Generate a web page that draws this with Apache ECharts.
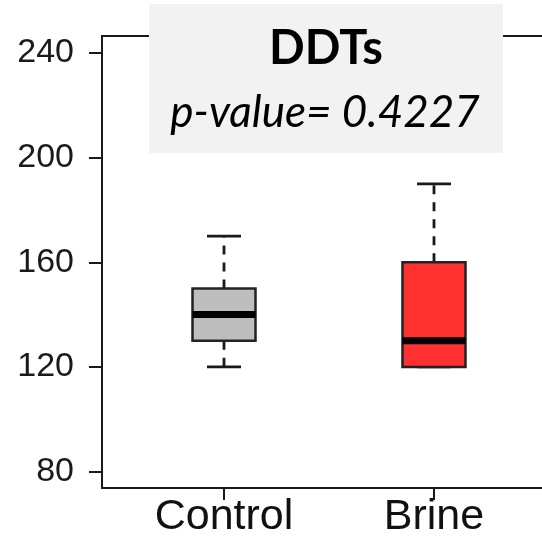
<!DOCTYPE html>
<html>
<head>
<meta charset="utf-8">
<script src="https://cdn.jsdelivr.net/npm/echarts@6/dist/echarts.min.js"></script>
<style>
  html, body { margin: 0; padding: 0; background: #fff; }
  #main { width: 542px; height: 540px; }
</style>
</head>
<body>
<div id="main"></div>
<script>
// groups and box stats (min, q1, median, q3, max)
const groups = ['Control', 'Brine'];
const groupPos = [1, 2];
const boxStats = [
  [120, 130, 140, 150, 170],
  [120, 120, 130, 160, 190]
];
const boxColors = ['#BEBEBE', '#FF3030'];
const yTicks = [80, 120, 160, 200, 240];
const titleText = 'DDTs';
const pText = 'p-value= 0.4227';

const seriesData = boxStats.map((s, i) => [groupPos[i]].concat(s));

const myChart = echarts.init(document.getElementById('main'));

const option = {
  backgroundColor: '#ffffff',
  animation: false,
  grid: {
    left: 102,
    top: 36,
    bottom: 52,
    right: -14,
    outerBoundsMode: 'none',
    containLabel: false,
    show: true,
    borderColor: '#1a1a1a',
    borderWidth: 2,
    backgroundColor: 'transparent'
  },
  xAxis: {
    type: 'value',
    min: 0.419,
    max: 2.581,
    splitLine: { show: false },
    axisLine: { show: true, lineStyle: { color: '#1a1a1a', width: 2 } },
    axisTick: {
      show: true,
      customValues: groupPos,
      length: 12,
      lineStyle: { color: '#1a1a1a', width: 2 }
    },
    axisLabel: {
      customValues: groupPos,
      formatter: function (v) {
        return groups[groupPos.indexOf(v)] || '';
      },
      fontFamily: 'Liberation Sans, Arial, sans-serif',
      fontSize: 43,
      color: '#111',
      margin: 8
    }
  },
  yAxis: {
    type: 'value',
    min: 73.7,
    max: 246.5,
    splitLine: { show: false },
    axisLine: { show: true, lineStyle: { color: '#1a1a1a', width: 2 } },
    axisTick: {
      show: true,
      customValues: yTicks,
      length: 13,
      lineStyle: { color: '#1a1a1a', width: 2 }
    },
    axisLabel: {
      customValues: yTicks,
      fontFamily: 'Liberation Sans, Arial, sans-serif',
      fontSize: 34,
      color: '#1a1a1a',
      margin: 28
    }
  },
  series: [{
    type: 'custom',
    clip: false,
    data: seriesData,
    renderItem: function (params, api) {
      const x = api.value(0);
      const lo = api.coord([x, api.value(1)]);
      const q1 = api.coord([x, api.value(2)]);
      const md = api.coord([x, api.value(3)]);
      const q3 = api.coord([x, api.value(4)]);
      const hi = api.coord([x, api.value(5)]);
      const cx = lo[0];
      const half = 31.5;
      const cap = 17;
      const ink = '#1a1a1a';
      const dashStyle = { stroke: ink, lineWidth: 2.8, lineDash: [9, 8] };
      const solid = { stroke: ink, lineWidth: 2.8 };
      return {
        type: 'group',
        children: [
          { type: 'line', shape: { x1: cx, y1: q3[1], x2: cx, y2: hi[1] }, style: dashStyle },
          { type: 'line', shape: { x1: cx, y1: q1[1], x2: cx, y2: lo[1] }, style: dashStyle },
          { type: 'line', shape: { x1: cx - cap, y1: hi[1], x2: cx + cap, y2: hi[1] }, style: solid },
          { type: 'line', shape: { x1: cx - cap, y1: lo[1], x2: cx + cap, y2: lo[1] }, style: solid },
          {
            type: 'rect',
            shape: { x: cx - half, y: q3[1], width: half * 2, height: q1[1] - q3[1] },
            style: { fill: boxColors[params.dataIndex], stroke: '#222', lineWidth: 2.5 }
          },
          { type: 'line', shape: { x1: cx - half, y1: md[1], x2: cx + half, y2: md[1] }, style: { stroke: '#000', lineWidth: 7 } }
        ]
      };
    }
  }],
  graphic: [{
    type: 'group',
    z: 100,
    children: [
      {
        type: 'rect',
        shape: { x: 149, y: 4, width: 354, height: 149 },
        style: { fill: '#f2f2f2' }
      },
      {
        type: 'text',
        x: 326,
        y: 49,
        style: {
          text: titleText,
          fill: '#000',
          font: 'bold 47px Lato, "Open Sans", sans-serif',
          textAlign: 'center',
          textVerticalAlign: 'middle'
        }
      },
      {
        type: 'text',
        x: 325,
        y: 113,
        style: {
          text: pText,
          fill: '#000',
          font: 'italic 44px Lato, "Open Sans", sans-serif',
          textAlign: 'center',
          textVerticalAlign: 'middle'
        }
      }
    ]
  }]
};

myChart.setOption(option);
window.addEventListener('resize', function () {
  myChart.resize();
});
</script>
</body>
</html>
